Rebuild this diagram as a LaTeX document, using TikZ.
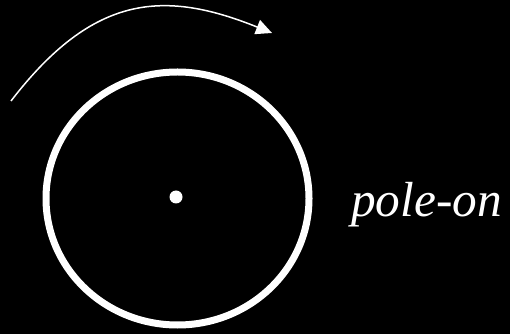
\documentclass[tikz,border=0pt]{standalone}
\usepackage{fontspec}
\setmainfont{Liberation Serif}
\usetikzlibrary{arrows.meta}
\begin{document}
\begin{tikzpicture}[x=1pt,y=1pt,
  ring/.style={draw=white,line width=7pt},
  spin/.style={draw=white,line width=1.5pt,-{Triangle[length=16pt,width=15pt]}},
  label/.style={text=white,font=\fontsize{49.3}{56}\selectfont\itshape,inner sep=0pt,anchor=base west}]
\fill[black] (0,0) rectangle (510,334);
\useasboundingbox (0,0) rectangle (510,334);
\coordinate (c) at (177.5,135.5);
\draw[ring] (c) ellipse [x radius=131.5, y radius=126.5];
\fill[white] (176,137) circle (6.5);
\coordinate (s) at (11,233);
\coordinate (e) at (272,301);
\draw[spin] (s) .. controls (94,341) and (165,344) .. (e);
\node[label] (t) at (351,117.3) {pole-on};
\end{tikzpicture}
\end{document}
